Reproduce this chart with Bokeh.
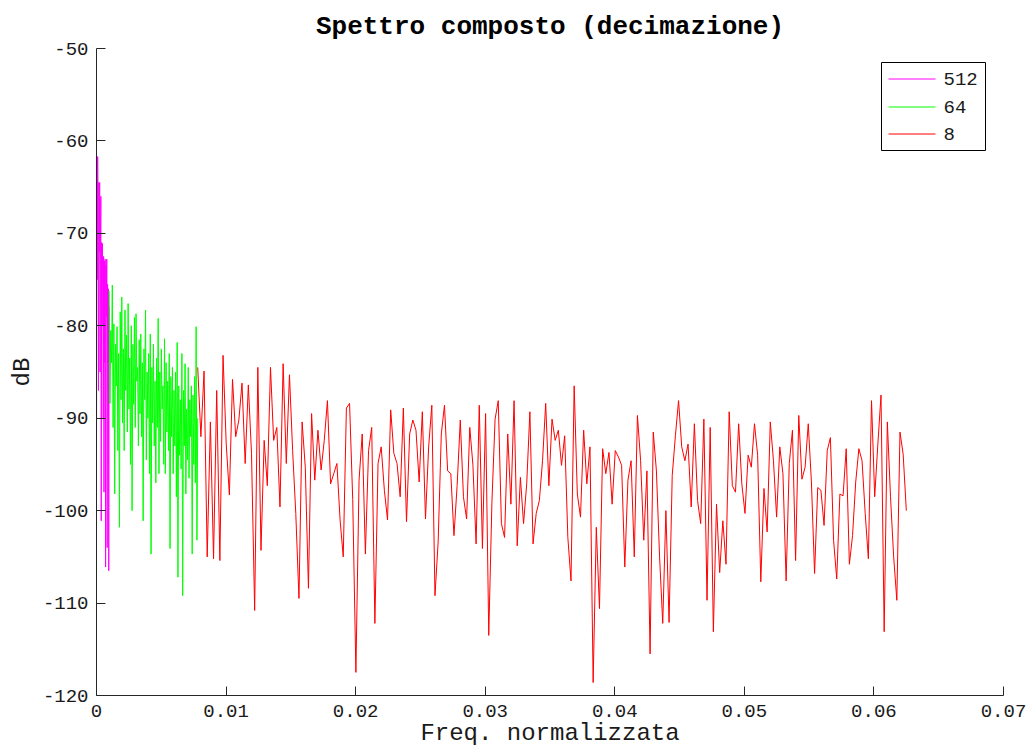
import numpy as np
from bokeh.plotting import figure
from bokeh.models import (FixedTicker, CustomJSTickFormatter, Range1d, Label,
                          BoxAnnotation)
from bokeh.embed import file_html
from bokeh.resources import INLINE

# ---------------- data ----------------
title_text = "Spettro composto (decimazione)"
x_label = "Freq. normalizzata"
y_label = "dB"
x_ticks = [0, 0.01, 0.02, 0.03, 0.04, 0.05, 0.06, 0.07]
y_ticks = [-120, -110, -100, -90, -80, -70, -60, -50]
legend_labels = ["512", "64", "8"]
series_colors = ["#FF00FF", "#00FF00", "#FF0000"]

# decimation 512: bins from 0 step 1/32768
mag_start, mag_step = 0.0, 1 / 32768
mag_db = [-94.6, -61.7, -75.0, -61.7, -68.0, -87.0, -64.5, -72.0, -64.5, -85.0,
          -70.8, -66.0, -101.1, -71.0, -80.0, -71.1, -76.0, -90.0, -72.5, -98.0,
          -73.0, -84.0, -72.8, -106.1, -73.5, -79.0, -72.8, -104.0, -75.5, -84.0,
          -76.0, -106.5, -78.0]

# decimation 64: bins from 1/1024 step 1/16384
grn_start, grn_step = 1 / 1024, 1 / 16384
grn_db = [-76.2, -88.4, -80.5, -84.0, -75.6, -91.0, -79.8, -98.2, -82.0, -86.5,
          -80.1, -93.5, -83.0, -101.8, -78.5, -88.0, -76.9, -90.5, -82.5, -93.5,
          -78.3, -87.0, -81.0, -91.5, -77.6, -89.0, -83.5, -95.0, -80.0, -100.0,
          -82.0, -88.5, -79.1, -91.0, -78.7, -86.0, -84.5, -93.0, -81.5, -89.5,
          -80.9, -92.0, -84.0, -101.1, -82.5, -88.0, -78.3, -94.5, -85.0, -90.0,
          -83.0, -96.0, -80.9, -104.7, -84.5, -90.5, -82.0, -93.0, -86.0, -97.0,
          -83.5, -91.0, -79.2, -96.0, -85.0, -92.5, -82.5, -89.0, -86.5, -95.0,
          -81.4, -96.0, -84.0, -91.5, -86.0, -93.5, -83.0, -104.1, -85.5, -92.0,
          -84.5, -96.0, -87.0, -93.0, -85.0, -98.5, -81.8, -107.2, -86.5, -94.0,
          -88.0, -95.5, -83.0, -109.2, -87.0, -93.0, -84.1, -98.2, -89.0, -94.5,
          -84.5, -96.5, -88.0, -92.0, -86.5, -104.7, -87.5, -95.0, -85.5, -97.0,
          -80.1, -103.2, -90.0]

# decimation 8: bins from 1/128 step 1/4096
red_start, red_step = 1 / 128, 1 / 4096
red_db = [-84.5, -92.0, -84.9, -105.0, -90.4, -105.2, -87.0, -105.4, -83.2, -92.7,
          -98.3, -85.8, -92.0, -90.2, -86.2, -94.9, -86.4, -93.8, -110.8, -84.5,
          -104.3, -92.4, -97.3, -84.5, -92.4, -91.0, -99.6, -84.1, -94.9, -85.3,
          -93.5, -100.3, -109.5, -90.4, -95.3, -108.4, -89.5, -96.7, -91.3, -95.6,
          -92.4, -88.1, -97.1, -96.0, -94.9, -101.0, -105.0, -88.9, -88.4, -98.8,
          -117.5, -96.7, -91.7, -104.7, -93.5, -91.0, -112.2, -94.9, -93.1, -97.8,
          -101.0, -89.1, -93.8, -94.9, -98.5, -88.9, -101.2, -91.7,
          -90.2, -91.3, -96.9, -89.3, -100.9, -93.1, -88.6, -109.2, -103.4, -91.7,
          -88.6, -95.7, -96.0, -102.7, -97.3, -90.2, -98.5, -100.9, -91.0, -95.1,
          -103.6, -88.6, -104.1, -89.5, -113.5, -99.1, -90.1, -88.1, -101.4, -102.9,
          -91.7, -99.3, -88.1, -103.8, -96.4, -101.4, -97.1, -89.3, -103.6, -100.3,
          -98.9, -94.6, -88.4, -97.3, -90.1, -92.4, -91.3, -95.1, -91.9, -102.9,
          -107.6, -86.5, -98.2, -100.7, -91.3, -97.1, -93.1, -118.6, -101.8, -110.6,
          -93.3, -96.0, -93.7, -99.3, -93.5, -94.2,
          -95.1, -106.1, -96.7, -94.6, -105.0, -89.7, -94.6, -103.2, -95.7, -115.5,
          -91.5, -95.7, -105.0, -112.2, -100.0, -112.1, -96.2, -91.9, -88.1, -93.1,
          -94.6, -92.8, -99.6, -90.6, -98.9, -101.4, -90.1, -109.7, -91.0, -113.1,
          -99.3, -106.7, -101.1, -105.8, -89.3, -97.3, -98.0, -90.6, -97.1, -100.3,
          -94.0, -95.3, -90.6, -94.0, -107.7, -97.6, -102.3, -90.4, -94.6, -100.7,
          -93.1, -96.0, -107.6, -94.9, -91.3, -105.4, -89.7, -96.6, -95.3, -90.6,
          -96.9, -106.8, -97.5,
          -97.8, -101.6, -93.5, -92.1, -103.2, -107.4, -98.2, -98.4, -93.3, -105.8,
          -102.7, -96.9, -93.3, -94.6, -100.3, -105.2, -88.1, -98.5, -92.8, -87.5,
          -113.1, -90.4, -98.5, -105.0, -109.7, -91.5, -93.9, -100.0]

mag_x = mag_start + mag_step * np.arange(len(mag_db))
grn_x = grn_start + grn_step * np.arange(len(grn_db))
red_x = red_start + red_step * np.arange(len(red_db))

# ---------------- figure ----------------
MONO = "Liberation Mono"
INK = "#1a1a1a"
X0, X1, Y0, Y1 = 0.0, 0.07, -120.0, -50.0
FRAME_W, FRAME_H = 907, 647  # frame size in px (1034-96-31, 749-48-54)

p = figure(width=1034, height=749,
           x_range=Range1d(X0, X1), y_range=Range1d(Y0, Y1),
           output_backend="svg", toolbar_location=None,
           min_border_left=96, min_border_right=31,
           min_border_top=48, min_border_bottom=54)
p.background_fill_color = "white"
p.border_fill_color = "white"
p.outline_line_color = None
p.xgrid.visible = False
p.ygrid.visible = False

p.title.text = title_text
p.title.align = "center"
p.title.text_font = MONO
p.title.text_font_style = "bold"
p.title.text_font_size = "26px"
p.title.text_color = "black"
p.title.standoff = 13

p.line(mag_x, mag_db, line_color=series_colors[0], line_width=1)
p.line(grn_x, grn_db, line_color=series_colors[1], line_width=1)
p.line(red_x, red_db, line_color=series_colors[2], line_width=1)

p.xaxis.ticker = FixedTicker(ticks=x_ticks)
p.yaxis.ticker = FixedTicker(ticks=y_ticks)
p.xaxis.formatter = CustomJSTickFormatter(code="return tick === 0 ? '0' : tick.toFixed(2);")
p.yaxis.formatter = CustomJSTickFormatter(code="return tick.toFixed(0);")
p.xaxis.axis_label = x_label
p.yaxis.axis_label = y_label

for ax in (p.xaxis[0], p.yaxis[0]):
    ax.major_tick_in = 9
    ax.major_tick_out = 0
    ax.minor_tick_line_color = None
    ax.axis_line_color = "#262626"
    ax.major_tick_line_color = "#262626"
    ax.major_label_text_font = MONO
    ax.major_label_text_font_size = "19px"
    ax.major_label_text_color = INK
    ax.axis_label_text_font = MONO
    ax.axis_label_text_font_size = "24px"
    ax.axis_label_text_font_style = "normal"
    ax.axis_label_text_color = INK

p.xaxis.major_label_standoff = 9
p.xaxis.axis_label_standoff = 0
p.yaxis.major_label_standoff = 8
p.yaxis.axis_label_standoff = 4

# ---------------- legend (drawn by hand) ----------------
def px_x(px):  # frame-relative px -> data x
    return X0 + (X1 - X0) * px / FRAME_W

def px_y(py):  # frame-relative px (from bottom) -> data y
    return Y0 + (Y1 - Y0) * py / FRAME_H

box_l, box_r, box_b, box_t = 785, 889, 545, 633
p.add_layout(BoxAnnotation(left=box_l, right=box_r, bottom=box_b, top=box_t,
                           left_units="screen", right_units="screen",
                           bottom_units="screen", top_units="screen",
                           fill_color="white", fill_alpha=1.0,
                           line_color="black", line_width=1, line_alpha=1.0,
                           level="underlay", editable=False))
row_y = [616.5, 588.5, 561.5]
for lbl, col, yy in zip(legend_labels, series_colors, row_y):
    p.segment(x0=[px_x(792)], y0=[px_y(yy)], x1=[px_x(839)], y1=[px_y(yy)],
              line_color=col, line_width=1)
    p.add_layout(Label(x=847, y=yy, x_units="screen", y_units="screen",
                       text=lbl, text_baseline="middle", text_align="left",
                       text_font=MONO, text_font_size="19px", text_color=INK,
                       level="overlay"))

open("out.html", "w").write(file_html(p, INLINE))
